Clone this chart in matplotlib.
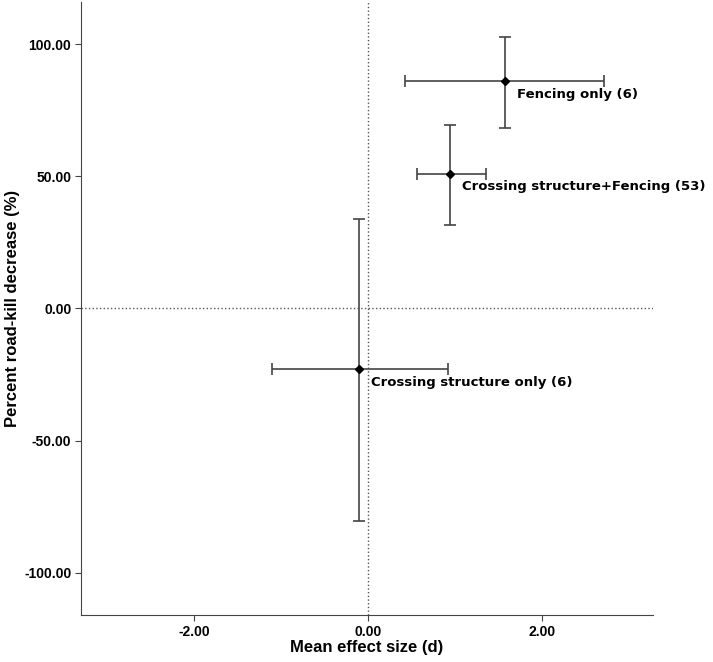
import matplotlib.pyplot as plt
from matplotlib.ticker import FormatStrFormatter

# group labels and values
labels = ['Fencing only (6)', 'Crossing structure+Fencing (53)', 'Crossing structure only (6)']
effect = [1.58, 0.95, -0.10]
effect_lo = [0.43, 0.56, -1.10]
effect_hi = [2.72, 1.36, 0.92]
decrease = [86.0, 51.0, -23.0]
decrease_lo = [68.4, 31.7, -80.5]
decrease_hi = [102.9, 69.4, 34.0]

fig = plt.figure(figsize=(7.13, 6.62), dpi=100)
ax = fig.add_axes([0.1136, 0.071, 0.8022, 0.926])

ax.axhline(0, color='#555555', linestyle=':', linewidth=1, zorder=1)
ax.axvline(0, color='#555555', linestyle=':', linewidth=1, zorder=1)

for i in range(len(labels)):
    xerr = [[effect[i] - effect_lo[i]], [effect_hi[i] - effect[i]]]
    yerr = [[decrease[i] - decrease_lo[i]], [decrease_hi[i] - decrease[i]]]
    ax.errorbar(effect[i], decrease[i], xerr=xerr, yerr=yerr, fmt='D',
                color='black', markersize=4, ecolor='#444444',
                elinewidth=1.2, capsize=4, capthick=1.2, zorder=3)
    ax.annotate(labels[i], (effect[i], decrease[i]), xytext=(12, -13),
                textcoords='offset pixels', fontsize=9.5, fontweight='bold',
                family='DejaVu Sans', va='center', ha='left')

ax.set_xlim(-3.3, 3.28)
ax.set_ylim(-116, 116)
ax.set_xticks([-2, 0, 2])
ax.set_yticks([-100, -50, 0, 50, 100])
ax.xaxis.set_major_formatter(FormatStrFormatter('%.2f'))
ax.yaxis.set_major_formatter(FormatStrFormatter('%.2f'))

for lab in ax.get_xticklabels() + ax.get_yticklabels():
    lab.set_family('Liberation Sans')
    lab.set_fontweight('bold')
    lab.set_fontsize(10)

ax.spines['top'].set_visible(False)
ax.spines['right'].set_visible(False)
ax.spines['left'].set_color('#444444')
ax.spines['bottom'].set_color('#444444')
ax.tick_params(direction='out', length=4, color='#444444', pad=3)

ax.set_xlabel('Mean effect size (d)', family='Liberation Sans',
              fontweight='bold', fontsize=12, labelpad=1)
ax.set_ylabel('Percent road-kill decrease (%)', family='Liberation Sans',
              fontweight='bold', fontsize=12, labelpad=3)

plt.savefig('out.png', dpi=100)
